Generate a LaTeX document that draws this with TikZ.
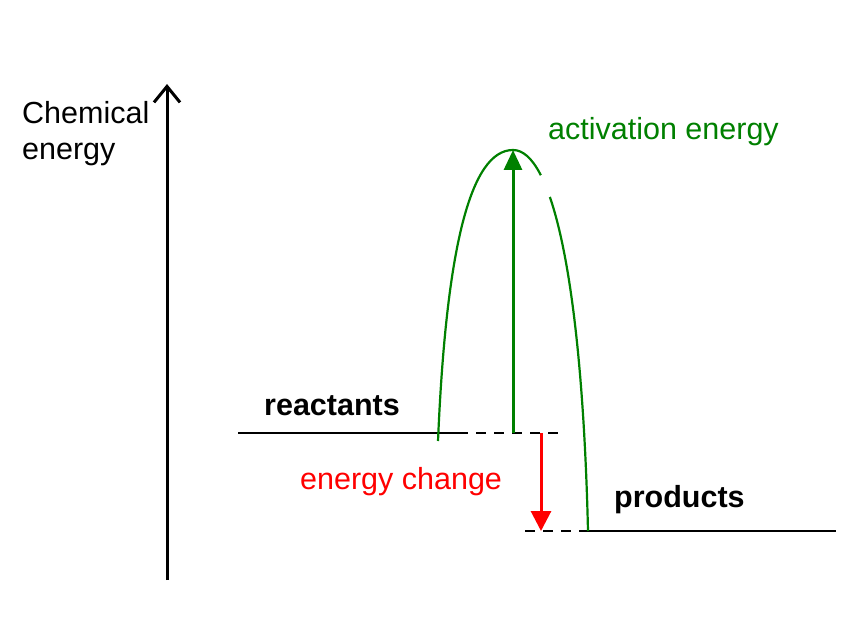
\documentclass[tikz,border=0pt]{standalone}
\usepackage{fontspec}
\setmainfont{Liberation Sans}
\usetikzlibrary{arrows.meta}
\definecolor{dkgreen}{RGB}{0,128,0}
\definecolor{brred}{RGB}{255,0,0}
\tikzset{
  lbl/.style={font=\fontsize{30.5}{36}\selectfont, inner sep=0pt, anchor=base west},
  blbl/.style={lbl, font=\bfseries\fontsize{30.5}{36}\selectfont},
  lvl/.style={line width=2.4pt, black},
  dsh/.style={line width=2.4pt, black, dash pattern=on 10pt off 8pt},
  curve/.style={line width=2.2pt, dkgreen},
}
\begin{document}
\begin{tikzpicture}[x=1pt,y=-1pt]
\useasboundingbox (0,0) rectangle (858,617);
% axis
\coordinate (axb) at (167,580);
\coordinate (axt) at (167,84);
\draw[line width=3pt, -{Straight Barb[length=16pt,width=26pt,line width=3pt]}] (axb) -- (axt);
\node[lbl] (ylab) at (22,124) {Chemical};
\node[lbl] (ylab2) at (22,160) {energy};
% levels
\coordinate (r0) at (238,433);
\coordinate (r1) at (468,433);
\coordinate (r2) at (562,433);
\coordinate (p0) at (525,531);
\coordinate (p1) at (588,531);
\coordinate (p2) at (836,531);
\draw[lvl] (r0) -- (r1);
\draw[dsh, dash phase=10pt] (r1) -- (r2);
\draw[dsh] (p0) -- (p1);
\draw[lvl] (p1) -- (p2);
\node[blbl] (react) at (264,415) {reactants};
\node[blbl] (prod) at (614,507) {products};
% curve
\coordinate (c0) at (438,441);
\coordinate (top) at (513,150);
\coordinate (c1) at (588,531);
\draw[curve] (c0) .. controls (446,250) and (470,150) .. (top)
  .. controls (552,150) and (582,280) .. (c1);
\draw[white, line width=7pt, line cap=butt] (540.5,175.5) -- (549.5,197);
% arrows
\coordinate (gb) at (513,433);
\draw[line width=3pt, dkgreen, -{Triangle[length=20pt,width=18pt]}] (gb) -- (top);
\node[lbl, text=dkgreen] (act) at (548,140) {activation energy};
\coordinate (rt) at (541,433);
\coordinate (rb) at (541,531);
\draw[line width=3pt, brred, -{Triangle[length=20pt,width=20pt]}] (rt) -- (rb);
\node[lbl, text=brred] (chg) at (300,489) {energy change};
\end{tikzpicture}
\end{document}
